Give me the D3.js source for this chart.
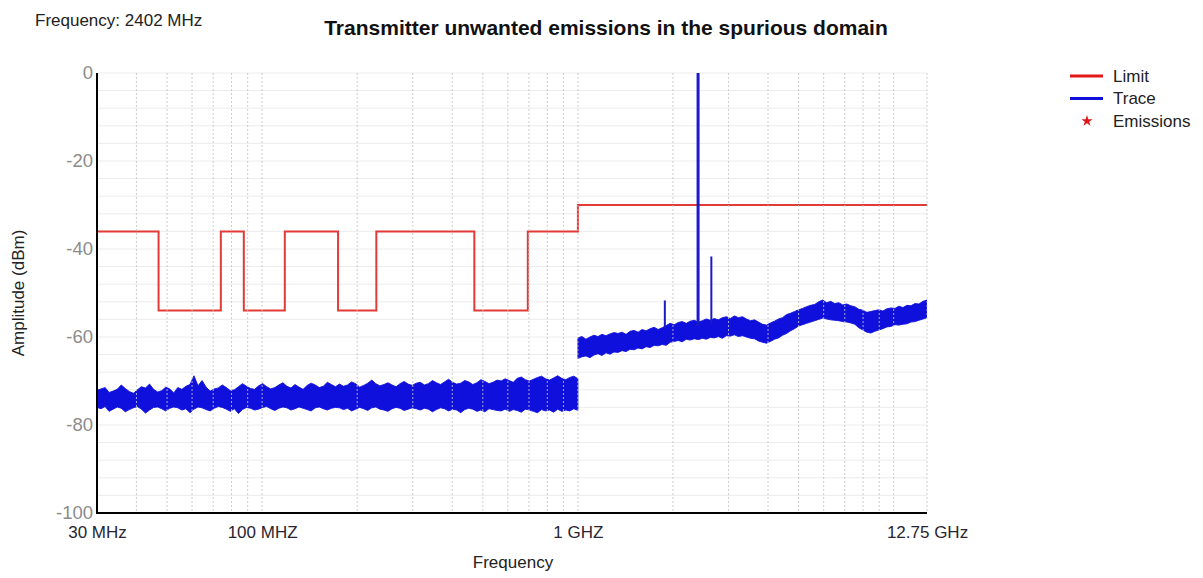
<!DOCTYPE html>
<html>
<head>
<meta charset="utf-8">
<script src="https://cdn.jsdelivr.net/npm/d3@7"></script>
<style>
    body { margin: 0; background: #fff; }
    svg text { font-family: "Liberation Sans", Arial, sans-serif; }
</style>
</head>
<body>
<div class="view1"></div>
<script>
// Limit mask: band edges in MHz and the level (dBm) of each band
const limitEdges = [30, 47, 74, 87.5, 118, 174, 230, 470, 694, 1000, 12750];
const limitLevels = [-36, -54, -36, -54, -36, -54, -36, -54, -36, -30];

// Sweep 1: 30 MHz - 1 GHz, max / min of each display bucket (dBm)
const sweep1 = [30, 1000];
const trace1Hi = [
    -72.1,-71.8,-71.5,-72.6,-72.3,-71.9,-70.9,-71.7,-72.4,-72.8,-72.0,-71.3,-71.6,-70.7,-71.9,-72.5,-72.2,-71.4,-71.8,-72.7,
    -71.5,-71.9,-71.2,-70.8,-68.8,-71.1,-69.9,-71.4,-72.3,-71.8,-71.6,-70.9,-71.5,-72.2,-72.0,-71.3,-70.6,-71.2,-71.7,-71.9,
    -71.1,-70.6,-71.3,-71.8,-71.5,-70.9,-70.4,-71.2,-71.6,-70.8,-71.4,-71.9,-71.0,-70.5,-70.9,-71.5,-71.2,-70.3,-70.8,-71.3,
    -70.7,-71.2,-70.9,-70.2,-70.6,-71.4,-71.0,-70.5,-69.8,-70.6,-71.1,-70.8,-70.4,-70.9,-71.3,-70.6,-70.1,-70.7,-71.0,-70.5,
    -70.3,-70.9,-70.6,-69.9,-70.4,-70.8,-70.2,-69.6,-70.3,-70.7,-70.5,-69.9,-70.2,-70.8,-70.4,-69.7,-70.1,-70.6,-70.3,-69.8,
    -70.0,-69.5,-69.9,-70.3,-69.4,-69.1,-69.7,-70.0,-69.6,-69.2,-68.9,-69.5,-69.8,-69.3,-68.8,-69.4,-69.7,-69.2,-68.9,-69.5
];
const trace1Lo = [
    -76.0,-76.3,-75.8,-76.9,-76.4,-75.9,-76.2,-77.0,-76.5,-76.1,-75.8,-76.4,-77.3,-76.6,-76.0,-75.9,-76.3,-76.8,-76.2,-75.9,
    -76.1,-76.6,-76.3,-77.2,-76.4,-75.9,-76.1,-76.5,-76.8,-76.2,-75.8,-76.0,-76.4,-76.9,-76.3,-77.4,-76.5,-76.0,-76.2,-76.6,
    -76.4,-76.0,-75.8,-76.3,-76.7,-76.2,-75.9,-76.1,-76.6,-76.3,-75.9,-76.2,-76.5,-76.8,-76.1,-75.9,-76.3,-76.6,-76.2,-76.0,
    -76.1,-76.5,-76.2,-76.8,-76.4,-76.0,-76.3,-76.7,-76.1,-75.9,-76.4,-76.6,-76.9,-76.3,-76.0,-76.2,-76.7,-76.4,-76.1,-76.3,
    -76.6,-76.2,-76.4,-77.0,-76.5,-76.1,-76.3,-76.8,-76.4,-76.6,-77.2,-76.5,-76.2,-76.4,-76.9,-76.6,-77.0,-76.3,-76.5,-76.7,
    -76.8,-76.4,-76.9,-76.5,-76.7,-77.1,-76.4,-76.6,-76.9,-77.2,-76.5,-76.8,-76.6,-77.1,-76.4,-76.9,-76.6,-76.8,-76.3,-76.7
];

// Sweep 2: 1 GHz - 12.75 GHz
const sweep2 = [1000, 12750];
const trace2Hi = [
    -60.2,-59.9,-60.5,-60.0,-59.6,-59.9,-59.4,-59.7,-59.3,-59.0,
    -59.2,-58.9,-59.4,-58.7,-58.5,-58.9,-58.3,-58.6,-58.1,-57.8,
    -58.3,-57.9,-57.4,-56.9,-57.2,-56.7,-56.5,-56.9,-56.4,-56.2,
    -56.6,-56.3,-55.9,-56.2,-55.8,-56.1,-55.6,-55.4,-55.8,-55.2,
    -55.6,-55.4,-55.9,-56.3,-56.1,-56.6,-57.1,-57.3,-56.8,-56.4,
    -55.9,-55.6,-54.9,-54.6,-54.2,-53.8,-53.5,-53.1,-52.8,-52.6,
    -52.0,-51.6,-52.2,-51.9,-52.4,-52.2,-52.7,-52.5,-52.9,-53.1,
    -53.7,-53.9,-54.4,-54.2,-54.0,-53.8,-54.1,-53.6,-53.4,-53.5,
    -53.0,-53.3,-52.8,-52.9,-52.4,-52.5,-51.9,-51.6
];
const trace2Lo = [
    -64.9,-64.5,-64.3,-64.7,-64.1,-63.8,-64.2,-63.6,-63.9,-63.4,
    -63.5,-63.1,-63.3,-62.8,-62.9,-62.5,-62.7,-62.2,-62.4,-61.9,
    -62.0,-61.7,-61.9,-61.2,-61.0,-60.8,-61.1,-60.5,-60.7,-60.4,
    -60.6,-60.3,-60.5,-60.1,-60.2,-59.9,-60.3,-59.7,-59.8,-59.5,
    -59.9,-59.7,-60.0,-60.3,-60.4,-60.9,-61.2,-61.4,-61.0,-60.5,
    -60.2,-59.6,-59.2,-58.6,-58.1,-57.5,-57.2,-56.9,-56.6,-56.3,
    -56.0,-55.7,-55.9,-56.1,-56.2,-56.3,-56.5,-56.6,-56.8,-57.1,
    -57.9,-58.4,-58.9,-59.1,-58.7,-58.4,-58.1,-57.7,-57.6,-57.2,
    -57.3,-57.1,-57.0,-56.6,-56.5,-56.2,-55.9,-55.6
];

// Narrow spurs sticking out of the floor (MHz, dBm)
const spurFreqs = [1885, 2402, 2646];
const spurBase = [-58, -57.5, -57];
const spurLevels = [-51.7, 0, -41.7];

// Axes
const xTickFreqs = [30, 100, 1000, 12750];
const xTickLabels = ["30 MHz", "100 MHZ", "1 GHZ", "12.75 GHz"];
const yTicks = [0, -20, -40, -60, -80, -100];
const gridFreqs = [40, 50, 60, 70, 80, 90, 100, 200, 300, 400, 500, 600, 700, 800, 900,
    1000, 2000, 3000, 4000, 5000, 6000, 7000, 8000, 9000, 10000, 12750];
const gridLevels = d3.range(-96, 1, 4);

const legendNames = ["Limit", "Trace", "Emissions"];
const legendColors = ["#e01818", "#1010dd", "#e01818"];

/** Spurious emissions plot */
class SpurChart {

    constructor(){
        this.width = 1203;
        this.height = 578;
        //plot area
        this.margin = {top: 73, right: 276, bottom: 65, left: 97};
        this.pw = this.width - this.margin.left - this.margin.right;
        this.ph = this.height - this.margin.top - this.margin.bottom;
    }

    // frequencies of the sweep points (log sweep)
    sweepFreqs(sweep, n){
        let r = sweep[1] / sweep[0];
        return d3.range(n).map(i => sweep[0] * Math.pow(r, i / (n - 1)));
    }

    draw(){
        let that = this;
        let svg = d3.select(".view1").append("svg")
            .attr("width", this.width)
            .attr("height", this.height);

        this.x = d3.scaleLog().domain([30, 12750]).range([0, this.pw]);
        this.y = d3.scaleLinear().domain([-100, 0]).range([this.ph, 0]);
        let x = this.x, y = this.y;

        let g = svg.append("g")
            .attr("transform", "translate(" + this.margin.left + "," + this.margin.top + ")");

        g.append("clipPath").attr("id", "plotClip")
            .append("rect").attr("width", this.pw).attr("height", this.ph);

        //horizontal minor grid
        g.append("g").selectAll("line")
            .data(gridLevels)
            .join("line")
            .attr("x1", 0).attr("x2", this.pw)
            .attr("y1", d => y(d)).attr("y2", d => y(d))
            .attr("stroke", "#ececec")
            .attr("stroke-width", 1);

        let plot = g.append("g").attr("clip-path", "url(#plotClip)");

        //limit line as a step function
        let limitPts = limitLevels.map((v, i) => [limitEdges[i], v]);
        limitPts.push([limitEdges[limitEdges.length - 1], limitLevels[limitLevels.length - 1]]);
        plot.append("path")
            .datum(limitPts)
            .attr("fill", "none")
            .attr("stroke", "#e23a36")
            .attr("stroke-width", 2)
            .attr("d", d3.line().x(d => x(d[0])).y(d => y(d[1])).curve(d3.curveStepAfter));

        //trace: min/max band per display column
        let traces = [[sweep1, trace1Hi, trace1Lo], [sweep2, trace2Hi, trace2Lo]];
        traces.forEach(t => {
            let fs = that.sweepFreqs(t[0], t[1].length);
            let pts = fs.map((f, i) => ({f: f, hi: t[1][i], lo: t[2][i]}));
            plot.append("path")
                .datum(pts)
                .attr("fill", "#1010dd")
                .attr("stroke", "#1010dd")
                .attr("stroke-width", 0.9)
                .attr("stroke-linejoin", "miter")
                .attr("d", d3.area().x(d => x(d.f)).y0(d => y(d.lo)).y1(d => y(d.hi)));
        });

        //spurs
        plot.append("g").selectAll("line")
            .data(spurFreqs)
            .join("line")
            .attr("x1", d => x(d)).attr("x2", d => x(d))
            .attr("y1", (d, i) => y(spurBase[i]))
            .attr("y2", (d, i) => y(spurLevels[i]))
            .attr("stroke", "#1a1ac8")
            .attr("stroke-width", (d, i) => spurLevels[i] > -10 ? 3 : 2);

        //vertical dashed grid goes on top of the trace
        g.append("g").selectAll("line")
            .data(gridFreqs)
            .join("line")
            .attr("x1", d => x(d)).attr("x2", d => x(d))
            .attr("y1", 0).attr("y2", this.ph)
            .attr("stroke", "#c4c4c4")
            .attr("stroke-opacity", 0.85)
            .attr("stroke-dasharray", "2,2")
            .attr("stroke-width", 1);

        //axes
        let yAxis = g.append("g")
            .call(d3.axisLeft(y).tickValues(yTicks).tickSize(0).tickPadding(4)
                .tickFormat(d => String(d)));
        yAxis.select(".domain").remove();
        yAxis.selectAll("text")
            .attr("fill", "#8c8c8c")
            .style("font-size", "18.5px");

        let xAxis = g.append("g")
            .attr("transform", "translate(0," + this.ph + ")")
            .call(d3.axisBottom(x).tickValues(xTickFreqs)
                .tickFormat((d, i) => xTickLabels[i]).tickSize(0).tickPadding(13));
        xAxis.select(".domain").remove();
        xAxis.selectAll("text")
            .attr("fill", "#2a2530")
            .style("font-size", "17px");

        g.append("line")
            .attr("x1", 0).attr("x2", 0).attr("y1", 0).attr("y2", this.ph + 1)
            .attr("stroke", "#000").attr("stroke-width", 2);
        g.append("line")
            .attr("x1", -1).attr("x2", this.pw).attr("y1", this.ph).attr("y2", this.ph)
            .attr("stroke", "#000").attr("stroke-width", 2);

        //titles
        svg.append("text")
            .attr("x", 606).attr("y", 35)
            .attr("text-anchor", "middle")
            .style("font-weight", "bold")
            .style("font-size", "21px")
            .attr("fill", "#111")
            .text("Transmitter unwanted emissions in the spurious domain");

        svg.append("text")
            .attr("x", 35).attr("y", 26)
            .style("font-size", "17px")
            .attr("fill", "#222")
            .text("Frequency: 2402 MHz");

        svg.append("text")
            .attr("x", 513).attr("y", 568)
            .attr("text-anchor", "middle")
            .style("font-size", "17px")
            .attr("fill", "#222")
            .text("Frequency");

        svg.append("text")
            .attr("transform", "translate(24,293) rotate(-90)")
            .attr("text-anchor", "middle")
            .style("font-size", "17px")
            .attr("fill", "#222")
            .text("Amplitude (dBm)");

        //legend
        let legend = svg.append("g")
            .attr("transform", "translate(1070,76)");
        let items = legend.selectAll("g")
            .data(legendNames)
            .join("g")
            .attr("transform", (d, i) => "translate(0," + (i * 22.5) + ")");
        items.filter((d, i) => i < 2).append("line")
            .attr("x1", 0).attr("x2", 33).attr("y1", 0).attr("y2", 0)
            .attr("stroke", (d, i) => legendColors[i])
            .attr("stroke-width", 3);
        items.filter((d, i) => i == 2).append("path")
            .attr("transform", "translate(17,0)")
            .attr("d", d3.symbol().type(d3.symbolStar).size(40))
            .attr("fill", legendColors[2]);
        items.append("text")
            .attr("x", 43).attr("y", 0)
            .attr("dy", "0.35em")
            .style("font-size", "17px")
            .attr("fill", "#222")
            .text(d => d);
    }
}

let chart = new SpurChart();
chart.draw();
</script>
</body>
</html>
